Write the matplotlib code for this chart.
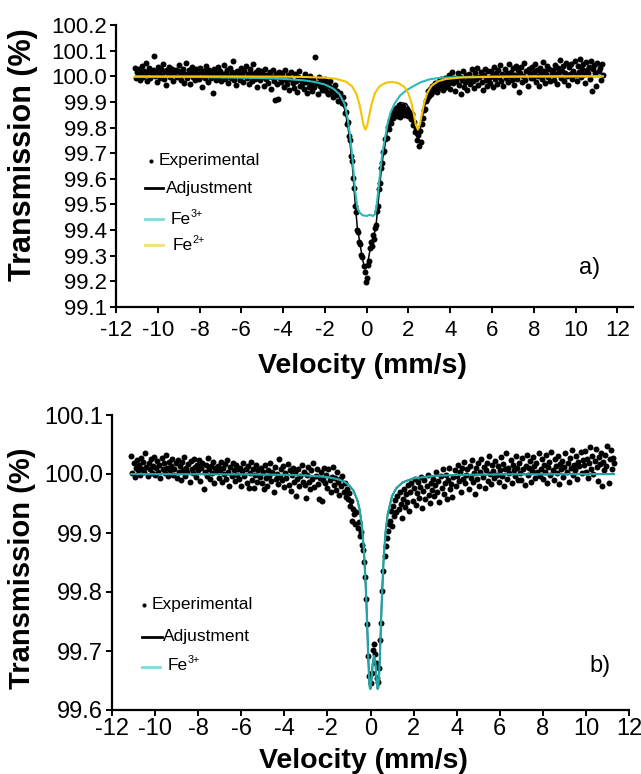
import numpy as np
import matplotlib
matplotlib.use("Agg")
import matplotlib.pyplot as plt
from matplotlib.lines import Line2D

plt.rcParams['font.family'] = ['Liberation Sans', 'DejaVu Sans']
plt.rcParams['axes.unicode_minus'] = False

# ---------------- data ----------------
# velocity channels (mm/s), 0.05 mm/s spacing
velocity = np.linspace(-11.1, 11.3, 449)

trans_a = [
    100.031, 99.995, 100.018, 100.004, 100.027, 99.986, 100.012, 100.040, 99.998, 100.021, 100.007, 100.052, 99.983, 100.015, 100.033, 99.992, 100.009, 100.024, 100.081, 100.001,
    100.017, 99.978, 100.036, 100.011, 99.994, 100.028, 100.005, 100.047, 99.988, 100.019, 99.965, 100.023, 100.009, 100.038, 99.997, 100.014, 100.030, 99.981, 100.012, 100.025,
    99.996, 100.021, 100.043, 100.003, 99.987, 100.016, 100.030, 99.975, 100.010, 100.051, 99.992, 100.006, 100.024, 99.970, 100.013, 100.035, 99.999, 100.018, 99.984, 100.027,
    100.009, 99.989, 100.032, 100.015, 99.960, 100.002, 100.021, 99.993, 100.040, 100.011, 99.979, 100.026, 100.004, 99.995, 100.017, 99.934, 100.029, 100.008, 99.986, 100.013,
    100.036, 99.998, 100.019, 99.981, 100.007, 100.045, 99.990, 100.012, 100.026, 99.972, 100.003, 100.031, 99.994, 100.016, 100.058, 99.985, 100.010, 99.966, 100.022, 100.001,
    100.014, 99.987, 100.033, 100.005, 99.976, 100.020, 100.040, 99.995, 100.008, 99.969, 100.027, 100.011, 99.983, 100.049, 100.002, 99.991, 100.018, 99.958, 100.025, 100.006,
    99.984, 100.021, 99.997, 100.010, 99.963, 100.030, 99.988, 100.006, 99.975, 100.016, 99.951, 99.999, 100.024, 99.981, 99.908, 100.009, 99.970, 99.912, 100.015, 99.992,
    99.976, 100.012, 99.993, 99.958, 100.025, 99.985, 99.968, 100.004, 99.947, 99.990, 100.018, 99.972, 99.955, 100.008, 99.981, 99.940, 99.996, 100.021, 99.962, 99.987,
    99.969, 99.994, 99.952, 100.010, 99.978, 99.935, 99.988, 99.960, 100.003, 99.971, 99.944, 99.990, 99.957, 100.074, 99.975, 99.930, 99.999, 99.962, 99.981, 99.948,
    99.975, 99.953, 99.990, 99.941, 99.968, 99.929, 99.962, 99.980, 99.937, 99.955, 99.918, 99.949, 99.965, 99.927, 99.941, 99.904, 99.933, 99.912, 99.895, 99.920,
    99.892, 99.858, 99.861, 99.815, 99.820, 99.768, 99.752, 99.690, 99.671, 99.602, 99.566, 99.493, 99.470, 99.401, 99.392, 99.352, 99.345, 99.301, 99.295, 99.258,
    99.238, 99.196, 99.214, 99.262, 99.281, 99.330, 99.352, 99.338, 99.382, 99.365, 99.410, 99.418, 99.474, 99.493, 99.561, 99.585, 99.643, 99.662, 99.705, 99.709,
    99.755, 99.760, 99.802, 99.795, 99.831, 99.818, 99.852, 99.838, 99.869, 99.851, 99.878, 99.846, 99.862, 99.887, 99.840, 99.871, 99.856, 99.883, 99.848, 99.866,
    99.858, 99.874, 99.845, 99.860, 99.832, 99.851, 99.808, 99.822, 99.781, 99.795, 99.752, 99.771, 99.728, 99.786, 99.742, 99.812, 99.838, 99.869, 99.874, 99.903,
    99.912, 99.941, 99.922, 99.950, 99.931, 99.962, 99.944, 99.975, 99.951, 99.938, 99.967, 99.983, 99.955, 99.990, 99.961, 99.946, 99.978, 99.995, 99.958, 99.980,
    99.969, 100.004, 99.952, 99.988, 100.015, 99.973, 99.994, 99.941, 99.982, 100.011, 99.965, 99.998, 99.932, 99.987, 100.021, 99.960, 99.979, 100.006, 99.945, 99.991,
    100.008, 99.971, 99.995, 100.027, 99.983, 99.956, 100.012, 99.990, 100.034, 99.967, 99.999, 100.016, 99.978, 99.948, 100.005, 100.029, 99.986, 99.962, 100.019, 99.994,
    99.975, 100.022, 100.003, 99.957, 100.037, 99.989, 100.011, 99.970, 100.026, 99.996, 100.045, 99.981, 100.008, 99.963, 100.030, 99.993, 100.014, 99.976, 100.049, 100.001,
    100.018, 99.984, 100.031, 99.967, 100.006, 100.042, 99.991, 100.023, 99.940, 100.012, 100.035, 99.978, 100.002, 100.053, 99.987, 100.019, 99.961, 100.028, 100.008, 99.995,
    100.038, 99.992, 100.015, 100.046, 99.979, 100.024, 100.003, 99.964, 100.033, 100.011, 99.988, 100.057, 100.020, 99.973, 100.007, 100.040, 99.996, 100.029, 99.983, 100.013,
    100.026, 99.987, 100.044, 100.009, 99.970, 100.031, 100.018, 100.063, 99.995, 100.022, 100.040, 99.981, 100.014, 100.052, 100.003, 99.966, 100.035, 100.010, 100.047, 99.990,
    100.021, 100.058, 100.005, 99.983, 100.039, 100.017, 100.066, 99.998, 100.030, 100.046, 100.008, 99.975, 100.054, 100.024, 100.012, 100.037, 99.990, 100.061, 99.942, 100.028,
    100.043, 100.011, 99.963, 100.052, 100.019, 100.034, 99.985, 100.048, 100.006,
]

trans_b = [
    100.030, 100.002, 100.018, 99.995, 100.011, 100.024, 100.006, 100.015, 99.998, 100.027, 100.009, 100.020, 100.003, 100.036, 100.012, 99.997, 100.019, 100.008, 100.025, 100.001,
    100.014, 100.029, 99.999, 100.010, 100.022, 100.004, 100.016, 99.993, 100.027, 100.008, 100.019, 100.001, 100.033, 100.011, 99.996, 100.021, 100.006, 100.014, 100.025, 99.998,
    100.009, 100.018, 99.994, 100.024, 100.003, 100.013, 99.990, 100.020, 100.007, 100.028, 99.997, 100.011, 100.004, 100.017, 99.986, 100.022, 100.008, 100.001, 100.026, 100.012,
    99.995, 100.015, 100.006, 100.023, 99.988, 100.010, 100.019, 99.975, 100.003, 100.016, 99.996, 100.027, 100.008, 99.991, 100.013, 100.002, 100.020, 99.984, 100.011, 100.005,
    100.014, 99.993, 100.007, 100.021, 99.986, 100.010, 100.000, 100.017, 99.991, 100.024, 100.004, 99.980, 100.012, 99.997, 100.019, 100.006, 99.988, 100.015, 99.999, 100.009,
    99.992, 100.011, 99.979, 100.005, 100.018, 99.996, 100.008, 99.984, 100.014, 99.977, 100.002, 100.021, 99.990, 100.009, 99.976, 99.998, 100.015, 99.986, 100.006, 99.995,
    100.010, 99.985, 100.003, 99.974, 100.016, 99.993, 99.980, 100.007, 99.996, 100.019, 99.988, 100.004, 99.970, 100.012, 99.991, 100.000, 99.983, 100.026, 99.995, 100.008,
    99.989, 100.013, 99.978, 100.001, 99.994, 100.017, 99.982, 100.006, 99.971, 99.998, 100.011, 99.986, 100.004, 99.963, 99.992, 100.009, 99.980, 99.997, 100.015, 99.987,
    100.004, 99.982, 99.960, 99.999, 100.012, 99.987, 99.975, 100.006, 99.991, 100.018, 99.978, 99.996, 100.009, 99.983, 99.957, 99.994, 100.003, 99.954, 99.989, 100.011,
    99.985, 99.999, 99.976, 100.008, 99.990, 99.969, 99.995, 100.012, 99.981, 99.993, 99.973, 100.004, 99.987, 99.964, 99.992, 99.979, 99.997, 99.970, 99.984, 99.961,
    99.975, 99.958, 99.968, 99.946, 99.955, 99.921, 99.940, 99.932, 99.915, 99.936, 99.908, 99.918, 99.895, 99.902, 99.880, 99.872, 99.851, 99.825, 99.788, 99.745,
    99.692, 99.658, 99.645, 99.662, 99.701, 99.712, 99.695, 99.679, 99.655, 99.648, 99.672, 99.719, 99.748, 99.802, 99.835, 99.861, 99.878, 99.892, 99.904, 99.915,
    99.921, 99.938, 99.912, 99.945, 99.928, 99.956, 99.935, 99.962, 99.941, 99.970, 99.949, 99.926, 99.958, 99.975, 99.944, 99.966, 99.953, 99.981, 99.937, 99.969,
    99.984, 99.955, 99.976, 99.992, 99.948, 99.968, 99.987, 99.960, 99.978, 99.995, 99.942, 99.971, 99.989, 99.957, 99.980, 99.999, 99.965, 99.951, 99.985, 99.973,
    99.992, 99.963, 99.981, 100.004, 99.970, 99.988, 99.952, 99.996, 99.977, 100.008, 99.966, 99.985, 99.999, 99.958, 99.990, 100.011, 99.974, 99.983, 99.961, 99.995,
    100.006, 99.980, 99.997, 100.016, 99.988, 100.003, 99.969, 100.011, 99.992, 100.021, 99.984, 99.999, 100.008, 99.975, 100.014, 99.994, 100.024, 99.986, 100.002, 99.966,
    100.010, 99.991, 100.019, 99.980, 100.004, 100.026, 99.995, 100.012, 99.976, 100.007, 100.018, 99.988, 100.031, 100.000, 99.983, 100.015, 100.005, 99.993, 100.022, 99.998,
    100.013, 99.987, 100.006, 100.028, 99.996, 100.017, 99.979, 100.009, 100.035, 99.992, 100.011, 100.001, 100.024, 99.984, 100.015, 100.006, 99.997, 100.030, 100.010, 99.989,
    100.019, 100.002, 99.990, 100.027, 100.008, 99.981, 100.014, 100.032, 99.998, 100.011, 100.022, 99.986, 100.005, 100.029, 100.013, 99.993, 100.018, 100.003, 100.036, 99.996,
    100.009, 100.025, 99.992, 100.016, 100.004, 100.033, 99.985, 100.012, 100.021, 99.999, 100.038, 100.007, 99.990, 100.026, 100.014, 100.002, 100.030, 99.983, 100.017, 100.008,
    100.022, 99.995, 100.012, 100.035, 100.004, 100.019, 99.987, 100.027, 100.010, 100.041, 99.998, 100.016, 100.006, 100.031, 99.992, 100.020, 100.013, 100.037, 100.001, 100.024,
    100.015, 100.039, 100.003, 100.026, 99.994, 100.018, 100.046, 100.009, 100.031, 100.000, 100.022, 100.043, 100.012, 99.988, 100.029, 100.017, 100.036, 99.979, 100.021, 100.007,
    100.032, 100.014, 100.048, 99.985, 100.025, 100.040, 100.009, 100.027, 100.018,
]

# fitted curves, panel a
adj_a_v = [-11.1, -8, -5, -4, -3, -2.5, -2, -1.6, -1.3, -1.05, -0.9, -0.8, -0.68, -0.55, -0.45, -0.35, -0.2, -0.1, -0.06,
           0.0, 0.1, 0.2, 0.3, 0.4, 0.47, 0.55, 0.65, 0.75, 0.86, 1.0, 1.15, 1.34, 1.6, 1.9, 2.05, 2.2, 2.3, 2.38, 2.45,
           2.52, 2.6, 2.7, 2.85, 3.0, 3.2, 3.5, 4.0, 5.0, 7.0, 11.3]
adj_a_t = [99.997, 99.9965, 99.992, 99.988, 99.981, 99.974, 99.962, 99.944, 99.918, 99.871, 99.807, 99.743, 99.646, 99.504,
           99.412, 99.362, 99.288, 99.252, 99.248, 99.255, 99.295, 99.34, 99.368, 99.397, 99.436, 99.505, 99.594, 99.67,
           99.723, 99.791, 99.837, 99.871, 99.898, 99.893, 99.874, 99.835, 99.796, 99.769, 99.762, 99.774, 99.81, 99.856,
           99.908, 99.939, 99.96, 99.977, 99.987, 99.994, 99.997, 99.9997]

fe3_a_v = [-11.1, -8, -5, -4, -3, -2.5, -2, -1.6, -1.3, -1.05, -0.9, -0.8, -0.68, -0.55, -0.45, -0.35, -0.2, 0.0, 0.15,
           0.3, 0.4, 0.47, 0.55, 0.65, 0.75, 0.86, 1.0, 1.15, 1.34, 1.6, 1.9, 2.2, 2.6, 3.0, 3.5, 5.0, 11.3]
fe3_a_t = [99.997, 99.997, 99.993, 99.99, 99.984, 99.978, 99.968, 99.952, 99.93, 99.89, 99.83, 99.77, 99.68, 99.55, 99.49,
           99.47, 99.458, 99.455, 99.46, 99.455, 99.462, 99.49, 99.55, 99.63, 99.70, 99.75, 99.815, 99.86, 99.894, 99.925,
           99.945, 99.96, 99.977, 99.988, 99.994, 99.998, 100.0]

fe2_a_v = [-11.1, -6, -4, -3, -2, -1.5, -1.0, -0.7, -0.5, -0.35, -0.25, -0.15, -0.06, 0.03, 0.13, 0.23, 0.4, 0.6, 0.9,
           1.2, 1.5, 1.8, 2.0, 2.15, 2.25, 2.35, 2.45, 2.55, 2.65, 2.75, 2.9, 3.1, 3.4, 3.8, 4.5, 6, 8, 11.3]
fe2_a_t = [99.9998, 99.9992, 99.9984, 99.9973, 99.9944, 99.9906, 99.9795, 99.961, 99.933, 99.892, 99.8515, 99.8095, 99.792,
           99.809, 99.850, 99.890, 99.9345, 99.9596, 99.9744, 99.978, 99.974, 99.959, 99.933, 99.894, 99.855, 99.812,
           99.792, 99.813, 99.855, 99.895, 99.935, 99.962, 99.98, 99.9895, 99.995, 99.998, 99.9994, 99.9997]

# fitted curve, panel b (adjustment = Fe3+ doublet)
fit_b_v = [-11.1, -6, -4, -3, -2, -1.5, -1.2, -1.0, -0.8, -0.6, -0.5, -0.4, -0.3, -0.2, -0.15, -0.1, -0.05, -0.03, 0.0,
           0.05, 0.1, 0.165, 0.23, 0.28, 0.33, 0.36, 0.41, 0.46, 0.52, 0.6, 0.7, 0.8, 1.0, 1.2, 1.5, 2.0, 3.0, 4.0, 6.0, 11.3]
fit_b_t = [99.9998, 99.9994, 99.9986, 99.9976, 99.9948, 99.991, 99.9866, 99.981, 99.9724, 99.9546, 99.9386, 99.9128,
           99.868, 99.792, 99.739, 99.685, 99.645, 99.6375, 99.6358, 99.653, 99.678, 99.692, 99.678, 99.653, 99.6358,
           99.6375, 99.666, 99.717, 99.782, 99.8495, 99.902, 99.932, 99.9624, 99.976, 99.986, 99.9927, 99.997, 99.9984,
           99.9994, 99.9999]

xticks = [-12, -10, -8, -6, -4, -2, 0, 2, 4, 6, 8, 10, 12]
yticks_a = [99.1, 99.2, 99.3, 99.4, 99.5, 99.6, 99.7, 99.8, 99.9, 100.0, 100.1, 100.2]
yticks_b = [99.6, 99.7, 99.8, 99.9, 100.0, 100.1]

# ---------------- styling ----------------
CYAN_A = '#2db8ba'
CYAN_B = '#23a5a6'
YELLOW = '#f6c300'
CYAN_LEG = '#86d8da'
YELLOW_LEG = '#f3df78'

W, H = 641, 774
fig = plt.figure(figsize=(W / 100, H / 100), dpi=100)


def fx(x):
    return x / W


def fy(y):
    return 1 - y / H


def style_axes(ax, labelsize, xpad):
    for s in ('top', 'right'):
        ax.spines[s].set_visible(False)
    for s in ('left', 'bottom'):
        ax.spines[s].set_linewidth(1.6)
    ax.tick_params(direction='out', length=4, width=1.4, labelsize=labelsize, pad=2.5,
                   colors='black')
    ax.tick_params(axis='x', pad=xpad)


# panel a
axa = fig.add_axes([fx(116), fy(307), (633 - 116) / W, (307 - 25) / H])
axa.plot(velocity, trans_a, 'o', color='black', ms=4.3, mew=0, zorder=2)
axa.plot(adj_a_v, adj_a_t, color='black', lw=1.1, zorder=3)
axa.plot(fe3_a_v, fe3_a_t, color=CYAN_A, lw=1.5, zorder=4)
axa.plot(fe2_a_v, fe2_a_t, color=YELLOW, lw=1.5, zorder=5)
axa.set_xlim(-12, 12.75)
axa.set_ylim(99.1, 100.2)
axa.set_xticks(xticks)
axa.set_xticklabels([str(t) for t in xticks])
axa.set_yticks(yticks_a)
axa.set_yticklabels([f'{t:.1f}' for t in yticks_a])
style_axes(axa, 16, 5)

# panel b
axb = fig.add_axes([fx(112), fy(710), (629 - 112) / W, (710 - 415) / H])
axb.plot(velocity, trans_b, 'o', color='black', ms=4.3, mew=0, zorder=2)
axb.plot(fit_b_v, fit_b_t, color='black', lw=1.1, zorder=3)
axb.plot(fit_b_v, fit_b_t, color=CYAN_B, lw=1.6, zorder=4)
axb.set_xlim(-12, 12)
axb.set_ylim(99.6, 100.1)
axb.set_xticks(xticks)
axb.set_xticklabels([str(t) for t in xticks])
axb.set_yticks(yticks_b)
axb.set_yticklabels([f'{t:.1f}' for t in yticks_b])
style_axes(axb, 17, 1.5)

# axis titles
fig.text(fx(23), fy(155), 'Transmission (%)', rotation=90, fontsize=22, fontweight='bold',
         ha='center', va='center')
fig.text(fx(362), fy(366), 'Velocity (mm/s)', fontsize=20.5, fontweight='bold', ha='center', va='center')
fig.text(fx(22), fy(568), 'Transmission (%)', rotation=90, fontsize=21, fontweight='bold',
         ha='center', va='center')
fig.text(fx(363), fy(761), 'Velocity (mm/s)', fontsize=20.5, fontweight='bold', ha='center', va='center')

# panel tags
fig.text(fx(590), fy(268), 'a)', fontsize=17, ha='center', va='center')
fig.text(fx(600), fy(666), 'b)', fontsize=17, ha='center', va='center')


# legends (hand-placed as in the original)
def leg_line(x0, x1, y, color, lw):
    fig.add_artist(Line2D([fx(x0), fx(x1)], [fy(y), fy(y)], color=color, lw=lw,
                          transform=fig.transFigure))


def leg_dot(x, y):
    fig.add_artist(Line2D([fx(x)], [fy(y)], marker='o', ms=3, color='black', mew=0,
                          transform=fig.transFigure))


def fe_label(x, y, charge, size):
    fig.text(fx(x), fy(y), 'Fe', fontsize=size, ha='left', va='center')
    fig.text(fx(x + 19.5), fy(y - 5), charge, fontsize=size * 0.62, ha='left', va='center')


LFS = 12.5
# panel a
leg_dot(151, 161)
fig.text(fx(159), fy(161), 'Experimental', fontsize=LFS, ha='left', va='center')
leg_line(145, 163, 188, 'black', 2.0)
fig.text(fx(166), fy(188), 'Adjustment', fontsize=LFS, ha='left', va='center')
leg_line(145, 163, 219, CYAN_LEG, 2.0)
fe_label(171, 219, '3+', LFS)
leg_line(145, 163, 245, YELLOW_LEG, 2.0)
fe_label(173, 245, '2+', LFS)
# panel b
leg_dot(144, 605)
fig.text(fx(152), fy(605), 'Experimental', fontsize=LFS, ha='left', va='center')
leg_line(142, 162, 637, 'black', 2.0)
fig.text(fx(163), fy(637), 'Adjustment', fontsize=LFS, ha='left', va='center')
leg_line(142, 160, 667, CYAN_LEG, 2.0)
fe_label(168, 665, '3+', LFS)

fig.savefig('out.png', dpi=100, facecolor='white')
